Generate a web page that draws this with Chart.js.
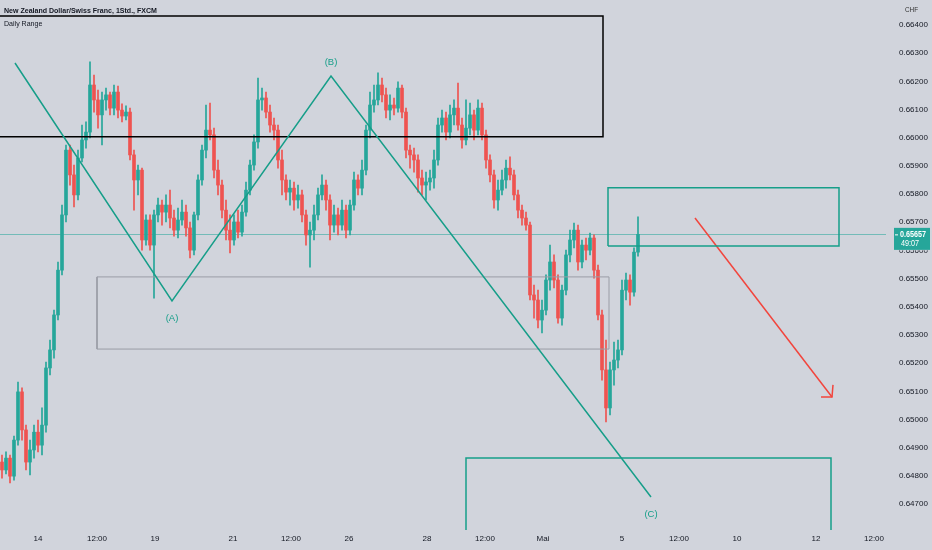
<!DOCTYPE html>
<html><head><meta charset="utf-8">
<script src="https://cdn.jsdelivr.net/npm/chart.js@4.4.1/dist/chart.umd.min.js"></script>
<style>html,body{margin:0;padding:0;background:#d1d4dc;}#wrap{width:932px;height:550px;position:relative;}</style>
</head><body><div id="wrap"><canvas id="c"></canvas></div>
<script>
// ---- candle data (NZD/CHF, 1h) ----
const opens = [
0.64849,0.64821,0.64863,0.64799,0.64927,0.65098,0.64963,0.64849,0.64892,0.64955,
0.64909,0.64980,0.65183,0.65247,0.65371,0.65530,0.65726,0.65956,0.65868,0.65797,
0.65928,0.65992,0.66020,0.66187,0.66134,0.66081,0.66134,0.66152,0.66105,0.66162,
0.66098,0.66077,0.66091,0.65939,0.65850,0.65885,0.65637,0.65708,0.65619,0.65726,
0.65761,0.65736,0.65761,0.65715,0.65672,0.65708,0.65736,0.65680,0.65601,0.65726,
0.65850,0.65956,0.66027,0.66010,0.65885,0.65832,0.65743,0.65672,0.65637,0.65701,
0.65665,0.65736,0.65814,0.65903,0.65985,0.66134,0.66141,0.66091,0.66045,0.66027,
0.65921,0.65850,0.65807,0.65821,0.65779,0.65797,0.65726,0.65655,0.65672,0.65726,
0.65797,0.65832,0.65779,0.65690,0.65726,0.65690,0.65743,0.65672,0.65761,0.65850,
0.65821,0.65885,0.66027,0.66116,0.66134,0.66187,0.66152,0.66098,0.66116,0.66105,
0.66176,0.66091,0.65956,0.65939,0.65921,0.65857,0.65832,0.65843,0.65857,0.65921,
0.66045,0.66070,0.66020,0.66081,0.66105,0.66045,0.65992,0.66034,0.66081,0.66027,
0.66105,0.66010,0.65921,0.65868,0.65779,0.65814,0.65850,0.65892,0.65868,0.65797,
0.65743,0.65715,0.65690,0.65442,0.65424,0.65353,0.65388,0.65495,0.65559,0.65495,
0.65360,0.65459,0.65584,0.65637,0.65672,0.65559,0.65619,0.65601,0.65644,0.65530,
0.65371,0.65176,0.65041,0.65176,0.65211,0.65247,0.65459,0.65495,0.65452,0.65594];
const closes = [
0.64821,0.64863,0.64799,0.64927,0.65098,0.64963,0.64849,0.64892,0.64955,0.64909,
0.64980,0.65183,0.65247,0.65371,0.65530,0.65726,0.65956,0.65868,0.65797,0.65928,
0.65992,0.66020,0.66187,0.66134,0.66081,0.66134,0.66152,0.66105,0.66162,0.66098,
0.66077,0.66091,0.65939,0.65850,0.65885,0.65637,0.65708,0.65619,0.65726,0.65761,
0.65736,0.65761,0.65715,0.65672,0.65708,0.65736,0.65680,0.65601,0.65726,0.65850,
0.65956,0.66027,0.66010,0.65885,0.65832,0.65743,0.65672,0.65637,0.65701,0.65665,
0.65736,0.65814,0.65903,0.65985,0.66134,0.66141,0.66091,0.66045,0.66027,0.65921,
0.65850,0.65807,0.65821,0.65779,0.65797,0.65726,0.65655,0.65672,0.65726,0.65797,
0.65832,0.65779,0.65690,0.65726,0.65690,0.65743,0.65672,0.65761,0.65850,0.65821,
0.65885,0.66027,0.66116,0.66134,0.66187,0.66152,0.66098,0.66116,0.66105,0.66176,
0.66091,0.65956,0.65939,0.65921,0.65857,0.65832,0.65843,0.65857,0.65921,0.66045,
0.66070,0.66020,0.66081,0.66105,0.66045,0.65992,0.66034,0.66081,0.66027,0.66105,
0.66010,0.65921,0.65868,0.65779,0.65814,0.65850,0.65892,0.65868,0.65797,0.65743,
0.65715,0.65690,0.65442,0.65424,0.65353,0.65388,0.65495,0.65559,0.65495,0.65360,
0.65459,0.65584,0.65637,0.65672,0.65559,0.65619,0.65601,0.65644,0.65530,0.65371,
0.65176,0.65041,0.65176,0.65211,0.65247,0.65459,0.65495,0.65452,0.65594,0.65657];
const highs = [
0.64874,0.64885,0.64874,0.64941,0.65133,0.65112,0.64980,0.64927,0.64980,0.64998,
0.65041,0.65204,0.65282,0.65388,0.65559,0.65761,0.65974,0.65974,0.65903,0.65956,
0.66045,0.66056,0.66269,0.66222,0.66169,0.66162,0.66176,0.66162,0.66187,0.66183,
0.66120,0.66113,0.66105,0.65956,0.65903,0.65892,0.65726,0.65726,0.65743,0.65786,
0.65779,0.65797,0.65814,0.65743,0.65750,0.65779,0.65761,0.65701,0.65736,0.65868,
0.65974,0.66116,0.66123,0.66034,0.65921,0.65850,0.65779,0.65726,0.65726,0.65743,
0.65761,0.65843,0.65921,0.66010,0.66212,0.66176,0.66162,0.66116,0.66070,0.66045,
0.65956,0.65868,0.65850,0.65843,0.65832,0.65814,0.65743,0.65701,0.65761,0.65821,
0.65868,0.65850,0.65797,0.65761,0.65750,0.65779,0.65761,0.65779,0.65878,0.65868,
0.65921,0.66045,0.66162,0.66187,0.66230,0.66212,0.66176,0.66152,0.66141,0.66198,
0.66187,0.66105,0.65974,0.65963,0.65939,0.65885,0.65878,0.65885,0.65956,0.66070,
0.66098,0.66091,0.66116,0.66134,0.66194,0.66070,0.66134,0.66123,0.66098,0.66134,
0.66123,0.66027,0.65939,0.65885,0.65850,0.65885,0.65921,0.65932,0.65885,0.65814,
0.65761,0.65736,0.65701,0.65477,0.65459,0.65424,0.65513,0.65619,0.65584,0.65513,
0.65477,0.65601,0.65672,0.65697,0.65690,0.65637,0.65644,0.65662,0.65655,0.65548,
0.65388,0.65282,0.65204,0.65275,0.65282,0.65495,0.65520,0.65513,0.65609,0.65719];
const lows = [
0.64792,0.64807,0.64775,0.64785,0.64909,0.64927,0.64821,0.64803,0.64863,0.64885,
0.64874,0.64955,0.65158,0.65218,0.65353,0.65513,0.65701,0.65832,0.65754,0.65779,
0.65914,0.65963,0.65999,0.66091,0.66034,0.65974,0.66098,0.66081,0.66081,0.66070,
0.66056,0.66063,0.65921,0.65743,0.65797,0.65601,0.65619,0.65601,0.65431,0.65701,
0.65690,0.65701,0.65680,0.65651,0.65644,0.65690,0.65651,0.65573,0.65584,0.65708,
0.65832,0.65928,0.65992,0.65857,0.65797,0.65715,0.65637,0.65591,0.65619,0.65644,
0.65651,0.65722,0.65797,0.65885,0.65963,0.66098,0.66070,0.66020,0.65992,0.65892,
0.65797,0.65779,0.65761,0.65743,0.65750,0.65701,0.65619,0.65541,0.65637,0.65708,
0.65779,0.65743,0.65637,0.65665,0.65655,0.65672,0.65644,0.65655,0.65743,0.65797,
0.65797,0.65868,0.65999,0.66091,0.66116,0.66127,0.66070,0.66063,0.66081,0.66091,
0.66070,0.65928,0.65892,0.65878,0.65807,0.65797,0.65779,0.65814,0.65821,0.65903,
0.66020,0.65992,0.65999,0.66045,0.66027,0.65963,0.65974,0.66010,0.65992,0.66010,
0.65992,0.65892,0.65843,0.65750,0.65743,0.65797,0.65821,0.65850,0.65779,0.65715,
0.65690,0.65672,0.65424,0.65360,0.65325,0.65307,0.65371,0.65459,0.65467,0.65342,
0.65335,0.65442,0.65559,0.65609,0.65530,0.65538,0.65566,0.65584,0.65502,0.65353,
0.65140,0.64991,0.65016,0.65122,0.65183,0.65229,0.65424,0.65406,0.65438,0.65580];

// ---- axis ticks ----
const xTickPos = [9,23.75,38.25,57.75,72.25,86.75,106.25,120.75,135.25,155,169.25,183.75,203.5,218];
const xTickLabels = ['14','12:00','19','21','12:00','26','28','12:00','Mai','5','12:00','10','12','12:00'];
const yTicks = [0.664,0.663,0.662,0.661,0.660,0.659,0.658,0.657,0.656,0.655,0.654,0.653,0.652,0.651,0.650,0.649,0.648,0.647];

// ---- drawings (data units: candle index, price) ----
const waveX = [3.25,42.5,82.25,162.25];
const waveY = [0.66265,0.65421,0.66219,0.64725];
const waveLabels = ['(A)','(B)','(C)'];
const waveLabelX = [42.5,82.25,162.25];
const waveLabelY = [0.65360,0.66269,0.64665];
const dailyRangeX = [-2,150.25], dailyRangeY = [0.66003,0.66432];
const greyBoxX = [23.75,151.75], greyBoxY = [0.65250,0.65506];
const tealBoxX = [151.5,209.25], tealBoxY = [0.65616,0.65822];
const lowerBoxX = [116,207.25], lowerBoxY = [0.64400,0.64863];
const arrowX = [173.25,207.5], arrowY = [0.65715,0.65080];
const arrowHeadX = [204.75,207.5,207.75], arrowHeadY = [0.65080,0.65080,0.65123];

const BG = '#d1d4dc', UP = '#26a69a', DOWN = '#ef5350', TEAL = '#169e89', RED = '#f2453d';
const FONT = '"Liberation Sans", Arial, sans-serif';

const idx = opens.map((_, i) => i);
const colors = idx.map(i => closes[i] >= opens[i] ? UP : DOWN);
const pts = (xs, ys) => xs.map((x, i) => ({x: x, y: ys[i]}));
const box = (xr, yr) => [{x:xr[0],y:yr[0]},{x:xr[1],y:yr[0]},{x:xr[1],y:yr[1]},{x:xr[0],y:yr[1]},{x:xr[0],y:yr[0]}];
const lineDs = (data, color, w) => ({type:'line', data: data, borderColor: color, borderWidth: w, pointRadius: 0, fill: false, tension: 0, order: 0, borderJoinStyle: 'miter'});

const overlay = {
  id: 'overlay',
  beforeDraw(chart) {
    const ctx = chart.ctx;
    ctx.save(); ctx.fillStyle = BG; ctx.fillRect(0, 0, chart.width, chart.height); ctx.restore();
  },
  beforeDatasetsDraw(chart) {
    const ctx = chart.ctx, a = chart.chartArea, ys = chart.scales.y;
    const py = Math.round(ys.getPixelForValue(closes[closes.length - 1])) + 0.5;
    ctx.save();
    ctx.strokeStyle = 'rgba(38,166,154,0.55)'; ctx.lineWidth = 1;
    ctx.beginPath(); ctx.moveTo(a.left, py); ctx.lineTo(a.right, py); ctx.stroke();
    ctx.restore();
  },
  afterDraw(chart) {
    const ctx = chart.ctx, xs = chart.scales.x, ys = chart.scales.y, a = chart.chartArea;
    ctx.save();
    ctx.fillStyle = '#131722'; ctx.textBaseline = 'middle'; ctx.textAlign = 'left';
    ctx.save(); ctx.translate(4, 11); ctx.scale(0.88, 1);
    ctx.font = 'bold 8px ' + FONT; ctx.fillText('New Zealand Dollar/Swiss Franc, 1Std., FXCM', 0, 0);
    ctx.restore();
    ctx.save(); ctx.translate(4, 24); ctx.scale(0.88, 1);
    ctx.font = '8px ' + FONT; ctx.fillText('Daily Range', 0, 0);
    ctx.restore();
    ctx.save(); ctx.translate(905, 10); ctx.scale(0.85, 1);
    ctx.font = '7.5px ' + FONT; ctx.fillStyle = '#333'; ctx.fillText('CHF', 0, 0);
    ctx.restore();
    ctx.fillStyle = TEAL; ctx.textAlign = 'center'; ctx.font = '9.5px ' + FONT;
    waveLabels.forEach((t, i) => ctx.fillText(t, xs.getPixelForValue(waveLabelX[i]), ys.getPixelForValue(waveLabelY[i])));
    const last = closes[closes.length - 1];
    const py = ys.getPixelForValue(last);
    ctx.fillStyle = BG; ctx.fillRect(a.right + 1, py - 7, 46, 23);
    ctx.fillStyle = UP; ctx.fillRect(894, py - 6.5, 36, 22);
    ctx.strokeStyle = '#ffffff'; ctx.lineWidth = 1;
    ctx.beginPath(); ctx.moveTo(895, py + 0.5); ctx.lineTo(898, py + 0.5); ctx.stroke();
    ctx.fillStyle = '#ffffff'; ctx.textAlign = 'left';
    ctx.save(); ctx.translate(900, py + 0.5); ctx.scale(0.85, 1);
    ctx.font = 'bold 8.5px ' + FONT; ctx.fillText(last.toFixed(5), 0, 0); ctx.restore();
    ctx.save(); ctx.translate(901, py + 9.5); ctx.scale(0.85, 1);
    ctx.font = '8.5px ' + FONT; ctx.fillText('49:07', 0, 0); ctx.restore();
    ctx.restore();
  }
};

new Chart(document.getElementById('c'), {
  type: 'bar',
  data: {
    datasets: [
      lineDs(pts(waveX, waveY), TEAL, 1.5),
      lineDs(box(dailyRangeX, dailyRangeY), '#000000', 1.5),
      lineDs(box(greyBoxX, greyBoxY), '#9a9da6', 1),
      lineDs(box(tealBoxX, tealBoxY), TEAL, 1.5),
      lineDs(box(lowerBoxX, lowerBoxY), TEAL, 1.5),
      lineDs(pts(arrowX, arrowY), RED, 1.5),
      lineDs(pts(arrowHeadX, arrowHeadY), RED, 1.5),
      {type: 'bar', data: idx.map(i => ({x: i, y: [opens[i], closes[i]]})), backgroundColor: colors, barThickness: 3, minBarLength: 1, grouped: false, order: 1, borderWidth: 0},
      {type: 'bar', data: idx.map(i => ({x: i, y: [lows[i], highs[i]]})), backgroundColor: colors, barThickness: 1, grouped: false, order: 2, borderWidth: 0}
    ]
  },
  options: {
    responsive: true, maintainAspectRatio: false, animation: false,
    layout: {padding: 0},
    plugins: {legend: {display: false}, tooltip: {enabled: false}},
    scales: {
      x: {
        type: 'linear', min: -0.5, max: 221, offset: false,
        grid: {display: false, drawTicks: false, offset: false}, border: {display: false},
        afterBuildTicks(s) { s.ticks = xTickPos.map(v => ({value: v})); },
        afterFit(s) { s.height = 20; s.paddingLeft = 0; s.paddingRight = 0; },
        ticks: {autoSkip: false, maxRotation: 0, padding: 4, color: '#131722', font: {size: 8, family: FONT}, callback: (v, i) => xTickLabels[i]}
      },
      y: {
        position: 'right', min: 0.646079, max: 0.664887,
        grid: {display: false, drawTicks: false}, border: {display: false},
        afterBuildTicks(s) { s.ticks = yTicks.map(v => ({value: v})); },
        afterFit(s) { s.width = 46; s.paddingTop = 0; s.paddingBottom = 0; },
        ticks: {padding: 13, color: '#131722', font: {size: 8, family: FONT}, callback: v => v.toFixed(5)}
      }
    }
  },
  plugins: [overlay]
});
</script></body></html>
